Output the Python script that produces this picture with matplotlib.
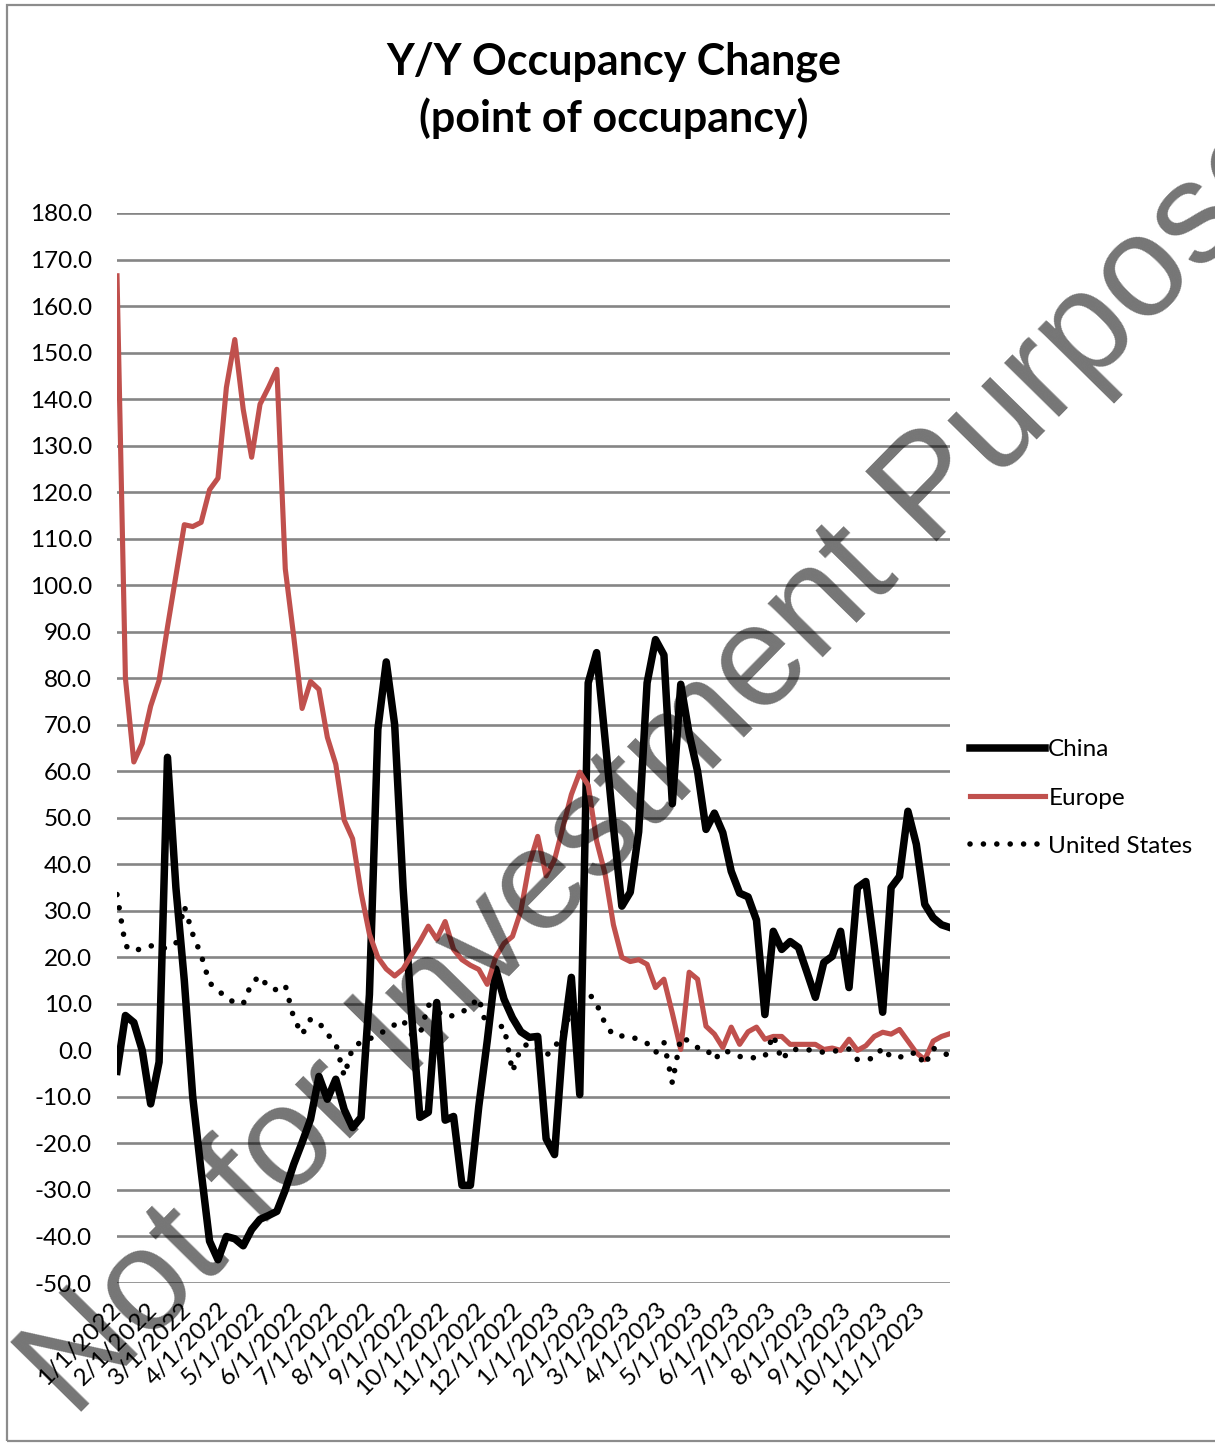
import matplotlib
matplotlib.use("Agg")
import matplotlib.pyplot as plt
from matplotlib.patches import Rectangle
import pandas as pd

# ---------------- data ----------------
start_date = "2022-01-01"
n_weeks = 100

china = [-4.5, 7.5, 6, 0, -11.5, -2.5, 63, 35, 15, -10,
         -26, -41, -45, -40, -40.5, -42, -38.5, -36.3, -35.5, -34.6,
         -30, -24.5, -19.8, -14.8, -5.6, -10.5, -6.2, -12.7, -16.6, -14.4,
         12, 69, 83.5, 70, 35, 8, -14.4, -13.3, 10.3, -15,
         -14.2, -29, -29, -12, 2, 17.5, 11, 7, 4, 2.8,
         3, -19, -22.4, 2, 15.7, -9.5, 79, 85.5, 67, 48,
         31, 34, 47, 79, 88.3, 85, 53, 78.7, 68, 60,
         47.5, 51, 46.8, 38.5, 33.8, 33, 28, 7.7, 25.6, 21.7,
         23.4, 22.1, 16.8, 11.4, 18.9, 20.2, 25.6, 13.5, 35, 36.3,
         22.4, 8.2, 35, 37.4, 51.4, 44.3, 31.4, 28.5, 27, 26.4]

europe = [166.5, 80, 62, 66, 74, 79.5, 91, 102, 113, 112.6,
          113.5, 120.5, 123, 142.5, 152.8, 137.8, 127.5, 138.9, 142.5, 146.4,
          103.5, 89, 73.5, 79.3, 77.6, 67.3, 61.5, 49.5, 45.5, 34,
          25, 20, 17.5, 16, 17.5, 20.5, 23.4, 26.7, 23.9, 27.7,
          21.7, 19.5, 18.3, 17.4, 14.2, 20, 23, 24.5, 30, 40,
          46, 37.5, 41, 48, 55, 59.8, 57, 45, 38, 27,
          20, 19.1, 19.5, 18.5, 13.5, 15.3, 8, 0.2, 16.8, 15.3,
          5.2, 3.5, 0.6, 5, 1.3, 4, 5, 2.4, 3, 3,
          1.3, 1.3, 1.3, 1.3, 0.2, 0.5, 0, 2.4, 0, 1,
          3, 3.9, 3.5, 4.5, 2, -0.5, -2, 2, 3, 3.6]

united_states = [33.5, 22.5, 21.3, 22, 22.5, 22, 22, 23, 31, 25,
                 20.5, 14.5, 13, 11.2, 10.3, 10, 14.5, 16, 13.5, 13,
                 14, 7, 3.4, 6.7, 6, 3.5, 1.5, -5.5, 0.6, 1.8,
                 2.5, 3.2, 4.5, 5.5, 6.5, 3.4, 3.4, 9.8, 8.5, 7.2,
                 7.5, 8.2, 9.5, 11.3, 4.5, 5, 5.2, -4.6, 0.6, 1.5,
                 0.3, -1.1, 0.5, 4, 8.5, 11, 12.5, 10, 5.8, 3.2,
                 3.1, 3, 2.3, 1.5, -0.5, 1.8, -7, 2.8, 2, 0.6,
                 0.4, -2, 0, -0.5, -1.3, -1.7, -1.5, -1.3, 3.3, -2.1,
                 0.2, 0.2, 0.2, -0.2, -0.4, -0.2, 0, 0.3, -2, -1.9,
                 -1.7, 0.6, -1.5, -1.4, -1.3, -0.2, -3.2, 0.5, -0.5, -1.1]

series_names = ["China", "Europe", "United States"]
y_ticks = list(range(-50, 181, 10))
y_tick_labels = [f"{v:.1f}" for v in y_ticks]
month_ticks = pd.date_range("2022-01-01", "2023-11-01", freq="MS")
x_tick_labels = [f"{d.month}/{d.day}/{d.year}" for d in month_ticks]

title = "Y/Y Occupancy Change\n(point of occupancy)"
watermark = "Not for Investment Purposes"

# ---------------- figure ----------------
W, H = 1215, 1446
fig = plt.figure(figsize=(W / 100, H / 100), dpi=100)
fig.patch.set_facecolor("white")

font = "Lato"
fs = 17.5

# outer frame
fig.patches.append(Rectangle((7 / W, 1 - 1441 / H), (W + 20) / W, (1441 - 5) / H,
                             transform=fig.transFigure, fill=False,
                             edgecolor="#8c8c8c", linewidth=1.6, zorder=0))

left, right, top, bottom = 117, 950, 213, 1283
ax = fig.add_axes([left / W, 1 - bottom / H, (right - left) / W, (bottom - top) / H])

dates = pd.date_range(start_date, periods=n_weeks, freq="7D")

ax.plot(dates, china, color="black", linewidth=5.4,
        label=series_names[0], zorder=3)
ax.plot(dates, europe, color="#C0504D", linewidth=3.7, label=series_names[1], zorder=3)
ax.plot(dates, united_states, color="black", linewidth=4.0,
        linestyle=(0, (0.01, 2.4)), dash_capstyle="round",
        label=series_names[2], zorder=4)

ax.set_ylim(-50, 180)
ax.set_xlim(dates[0], dates[-1])
ax.set_yticks(y_ticks)
ax.set_yticklabels(y_tick_labels, fontsize=fs, family=font, color="black")
ax.set_xticks(month_ticks)
ax.set_xticklabels(x_tick_labels, fontsize=fs, family=font, rotation=45,
                   ha="right", va="center", rotation_mode="anchor")
ax.tick_params(axis="y", length=0, pad=18)
ax.tick_params(axis="x", length=0, pad=17)
for s in ax.spines.values():
    s.set_visible(False)
ax.grid(axis="y", color="#858585", linewidth=1.9, zorder=0)
ax.set_axisbelow(True)

# title
fig.text(614 / W, 1 - 90 / H, title, ha="center", va="center", fontsize=31,
         fontweight="bold", family=font, linespacing=1.45)

# legend
leg = fig.legend(loc="center left", bbox_to_anchor=(970 / W, 1 - 798 / H),
                 bbox_transform=fig.transFigure, frameon=False,
                 prop={"family": font, "size": fs}, handlelength=3.1,
                 handletextpad=0.12, labelspacing=1.12, borderpad=0,
                 borderaxespad=0)

# watermark
fig.text(74 / W, 1 - 1420 / H, watermark, fontsize=104, family="Liberation Sans",
         color="black", alpha=0.54, rotation=45.5, rotation_mode="anchor",
         ha="left", va="baseline", zorder=10)

fig.savefig("out.png", dpi=100, facecolor="white")
